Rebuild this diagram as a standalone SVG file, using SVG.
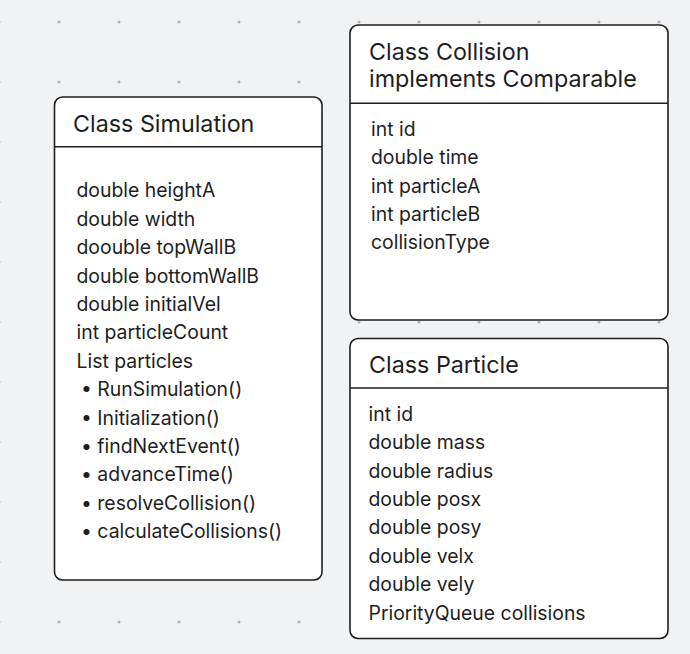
<svg xmlns="http://www.w3.org/2000/svg" width="690" height="654" viewBox="0 0 690 654">
<style>
.box{fill:#ffffff;stroke:#1e1e1e;stroke-width:1.6}
.div{stroke:#1e1e1e;stroke-width:1.6}
.title{font-family:Inter,"Liberation Sans",sans-serif;font-size:23.3px;fill:#1e1e1e}
.body{font-family:Inter,"Liberation Sans",sans-serif;font-size:19.4px;fill:#1e1e1e}
</style>
<defs>
<pattern id="dots" patternUnits="userSpaceOnUse" x="29" y="-8" width="60" height="60">
<circle cx="30" cy="30" r="1.6" fill="#b3b5b8"/>
</pattern>
</defs>
<rect x="0" y="0" width="690" height="654" fill="#f1f2f4"/>
<rect x="0" y="0" width="690" height="654" fill="url(#dots)"/>
<g id="connectors"></g>
<g id="simulation">
<rect class="box" x="54.5" y="97" width="267.5" height="483" rx="8"/>
<line class="div" x1="54.5" y1="146.7" x2="322" y2="146.7"/>
<text class="title" x="73" y="131.7">Class Simulation</text>
<g class="body">
<text x="76.5" y="197.3">double heightA</text>
<text x="76.5" y="225.7">double width</text>
<text x="76.5" y="254.1">doouble topWallB</text>
<text x="76.5" y="282.5">double bottomWallB</text>
<text x="76.5" y="310.9">double initialVel</text>
<text x="76.5" y="339.3">int particleCount</text>
<text x="76.5" y="367.7">List particles</text>
<text x="81" y="396.1">• RunSimulation()</text>
<text x="81" y="424.5">• Initialization()</text>
<text x="81" y="452.9">• findNextEvent()</text>
<text x="81" y="481.3">• advanceTime()</text>
<text x="81" y="509.7">• resolveCollision()</text>
<text x="81" y="538.1">• calculateCollisions()</text>
</g>
</g>
<g id="collision">
<rect class="box" x="350" y="25" width="318" height="295" rx="8"/>
<line class="div" x1="350" y1="103.3" x2="668" y2="103.3"/>
<text class="title" x="369" y="60">Class Collision</text>
<text class="title" x="369" y="87.3">implements Comparable</text>
<g class="body">
<text x="371" y="136">int id</text>
<text x="371" y="164.3">double time</text>
<text x="371" y="192.6">int particleA</text>
<text x="371" y="220.9">int particleB</text>
<text x="371" y="249.2">collisionType</text>
</g>
</g>
<g id="particle">
<rect class="box" x="350" y="338.5" width="318" height="300" rx="8"/>
<line class="div" x1="350" y1="388" x2="668" y2="388"/>
<text class="title" x="369" y="372.7">Class Particle</text>
<g class="body">
<text x="368.5" y="420.7">int id</text>
<text x="368.5" y="449.1">double mass</text>
<text x="368.5" y="477.5">double radius</text>
<text x="368.5" y="505.9">double posx</text>
<text x="368.5" y="534.3">double posy</text>
<text x="368.5" y="562.7">double velx</text>
<text x="368.5" y="591.1">double vely</text>
<text x="368.5" y="619.5">PriorityQueue collisions</text>
</g>
</g>
</svg>
